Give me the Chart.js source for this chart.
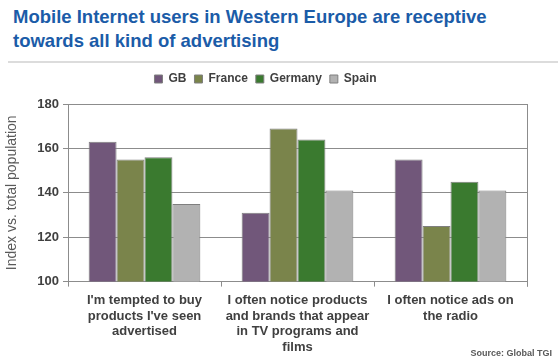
<!DOCTYPE html>
<html>
<head>
<meta charset="utf-8">
<script src="https://cdn.jsdelivr.net/npm/chart.js@4/dist/chart.umd.min.js"></script>
<style>
  body { margin: 0; width: 558px; height: 361px; background: #fff; position: relative; overflow: hidden; font-family: "Liberation Sans", Arial, sans-serif; }
  #title { position: absolute; left: 13px; top: 5px; font-size: 18.5px; font-weight: bold; color: #1b5ca8; line-height: 24px; }
  #rule { position: absolute; left: 8px; right: 0; top: 61px; height: 2px; background: #dcdcdc; }
  #chartBox { position: absolute; left: 0; top: 64px; width: 558px; height: 297px; }
  #source { position: absolute; right: 6px; top: 348px; font-size: 9px; font-weight: bold; color: #595959; }
</style>
</head>
<body>
<div id="title">Mobile Internet users in Western Europe are receptive<br>towards all kind of advertising</div>
<div id="rule"></div>
<div id="chartBox"><canvas id="chart"></canvas></div>
<div id="source">Source: Global TGI</div>
<script>
const categories = [
    ["I'm tempted to buy", "products I've seen", "advertised"],
    ["I often notice products", "and brands that appear", "in TV programs and", "films"],
    ["I often notice ads on", "the radio"]
];
const gb = [163, 131, 155];
const france = [155, 169, 125];
const germany = [156, 164, 145];
const spain = [135, 141, 141];
const yTicks = [100, 120, 140, 160, 180];

// right edge of the plot box
const rightBorder = {
    id: 'rightBorder',
    afterDraw(chart) {
        const a = chart.chartArea;
        const ctx = chart.ctx;
        ctx.save();
        ctx.strokeStyle = '#8c8c8c';
        ctx.lineWidth = 1;
        ctx.beginPath();
        ctx.moveTo(Math.round(a.right) + 0.5, a.top);
        ctx.lineTo(Math.round(a.right) + 0.5, a.bottom + 5);
        ctx.stroke();
        ctx.restore();
    }
};

// extra room under the legend
const legendGap = {
    id: 'legendGap',
    beforeInit(chart) {
        const fit = chart.legend.fit;
        chart.legend.fit = function () {
            fit.bind(chart.legend)();
            this.height += 9;
        };
    }
};

function ds(label, data, color) {
    return {
        label: label,
        data: data,
        backgroundColor: color,
        borderColor: '#7f7f7f',
        borderWidth: 1,
        categoryPercentage: 0.73,
        barPercentage: 1.0
    };
}

const ctx = document.getElementById('chart').getContext('2d');
new Chart(ctx, {
    type: 'bar',
    data: {
        labels: categories,
        datasets: [
            ds('GB', gb, '#71577a'),
            ds('France', france, '#7a844b'),
            ds('Germany', germany, '#3a7a2f'),
            ds('Spain', spain, '#b2b2b2')
        ]
    },
    options: {
        responsive: true,
        maintainAspectRatio: false,
        animation: false,
        layout: { padding: { left: 4, right: 31, top: 1, bottom: 0 } },
        plugins: {
            legend: {
                position: 'top',
                labels: {
                    boxWidth: 8,
                    boxHeight: 8,
                    padding: 8,
                    color: '#404040',
                    font: { family: '"Liberation Sans", Arial, sans-serif', size: 12, weight: 'bold' }
                }
            },
            tooltip: { enabled: false }
        },
        scales: {
            x: {
                grid: { display: true, drawOnChartArea: false, drawTicks: true, tickLength: 5, color: '#8c8c8c', offset: true },
                border: { color: '#8c8c8c' },
                ticks: {
                    color: '#404040',
                    maxRotation: 0,
                    autoSkip: false,
                    padding: 6,
                    font: { family: '"Liberation Sans", Arial, sans-serif', size: 13, weight: 'bold', lineHeight: 1.2 }
                }
            },
            y: {
                min: 100,
                max: 180,
                afterBuildTicks(scale) { scale.ticks = yTicks.map(v => ({ value: v })); },
                afterFit(scale) { scale.width = 64; },
                grid: { color: '#8c8c8c', tickLength: 5 },
                border: { color: '#8c8c8c' },
                title: {
                    display: true,
                    text: 'Index vs. total population',
                    color: '#595959',
                    padding: { top: 0, bottom: 0 },
                    font: { family: '"Liberation Sans", Arial, sans-serif', size: 14 }
                },
                ticks: {
                    color: '#404040',
                    padding: 4,
                    font: { family: '"Liberation Sans", Arial, sans-serif', size: 13, weight: 'bold' }
                }
            }
        }
    },
    plugins: [rightBorder, legendGap]
});
</script>
</body>
</html>
